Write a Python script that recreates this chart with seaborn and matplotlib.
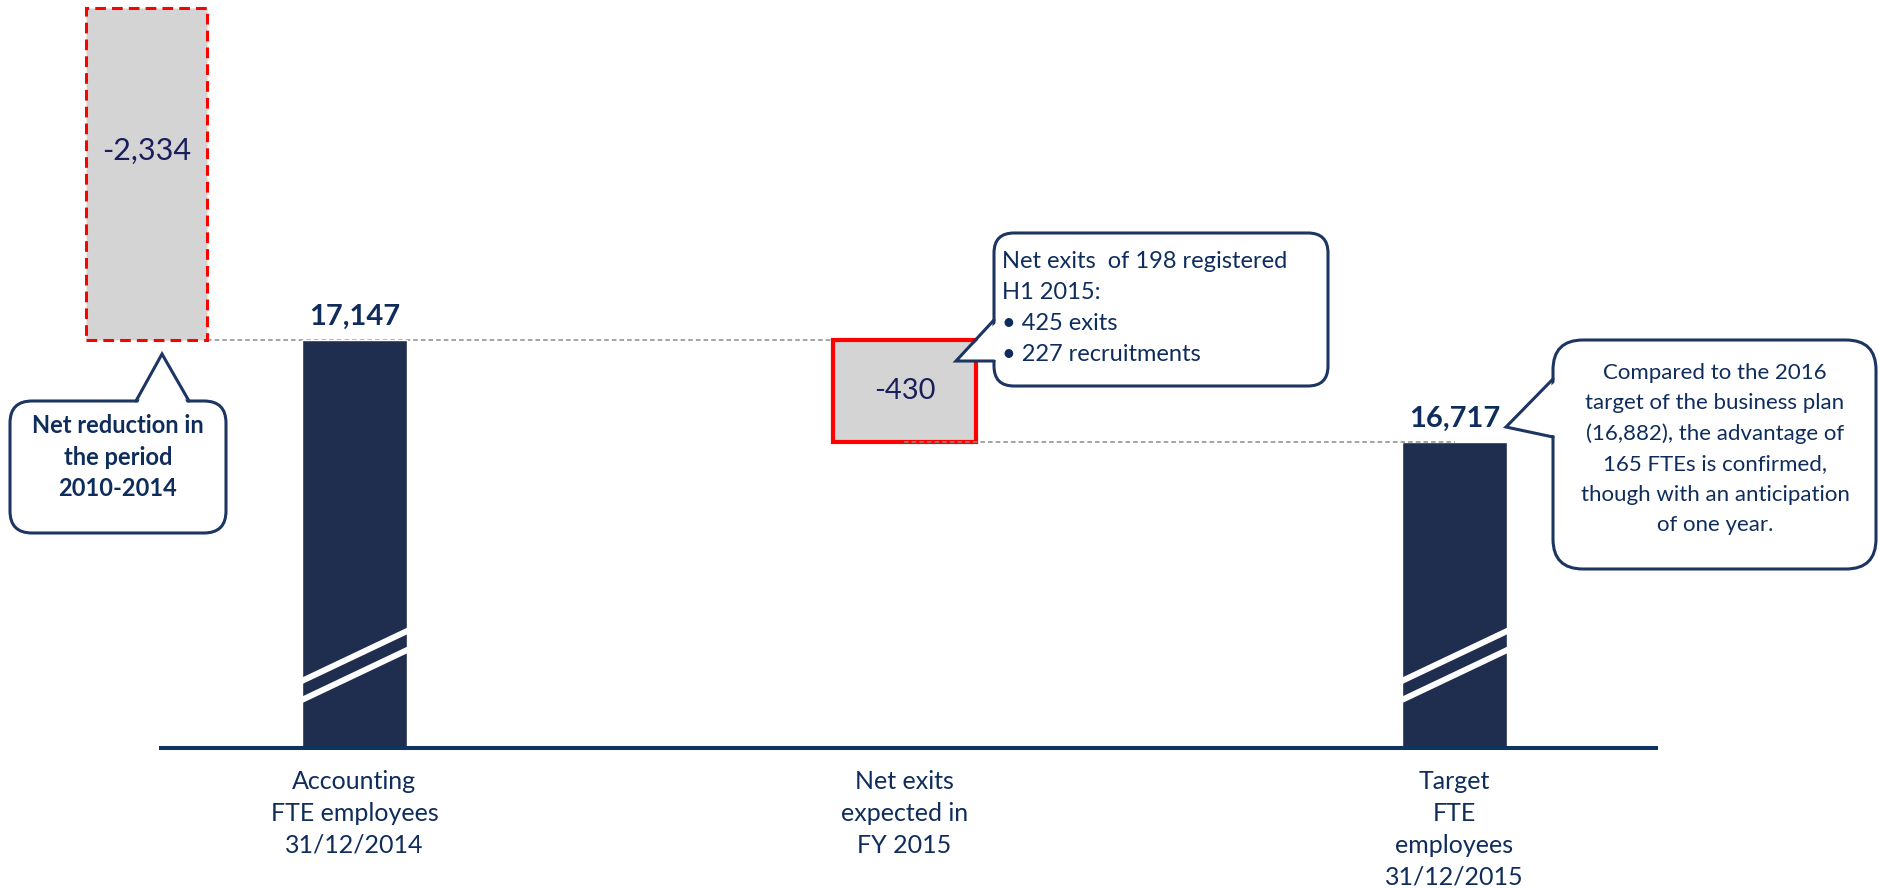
import pandas as pd
import seaborn as sns
import matplotlib.pyplot as plt
from matplotlib.patches import FancyBboxPatch, Polygon
from matplotlib.lines import Line2D
from matplotlib.transforms import Affine2D

# Dati
categories = ["Accounting\nFTE employees\n31/12/2014",
              "Net exits\nexpected in\nFY 2015",
              "Target\nFTE\nemployees\n31/12/2015"]
total_categories = [categories[0], categories[2]]
total_values = [17147, 16717]
net_exits_2015 = -430
net_reduction_2010_2014 = -2334

callout_1 = "Net reduction in\nthe period\n2010-2014"
callout_2 = "Net exits  of 198 registered\nH1 2015:\n\u2022 425 exits\n\u2022 227 recruitments"
callout_3 = ("Compared to the 2016\ntarget of the business plan\n(16,882), the advantage of\n"
             "165 FTEs is confirmed,\nthough with an anticipation\nof one year.")

# Colori
NAVY = "#1f2d4e"
AXIS = "#0e3461"
TEXT = "#0f2d5c"
NUM = "#1a1f5c"
EDGE = "#1c3563"
GREY = "#d4d4d4"
RED = "#ff0000"

# Layout (pixel)
W, H = 1879, 888
BASE_PX = 748            # asse interrotto
Y_FLOOR, Y_CEIL = 15427, 18580
X_LIM = (-0.6445, 2.7718)
REDUCTION_SCALE = 0.6    # la barra 2010-2014 non e' in scala nell'originale
REDUCTION_X = -0.378

sns.set_theme(style="white")
plt.rcParams['font.family'] = ['Lato', 'DejaVu Sans']

fig = plt.figure(figsize=(W / 100, H / 100), dpi=100)
ax = fig.add_axes([0, (H - BASE_PX) / H, 1, BASE_PX / H])

df = pd.DataFrame({"category": total_categories, "fte": total_values})
sns.barplot(data=df, x="category", y="fte", order=categories, color=NAVY,
            saturation=1, width=0.19, errorbar=None, ax=ax, zorder=2)
bars = list(ax.patches)

ax.set_xlim(*X_LIM)
ax.set_ylim(Y_FLOOR, Y_CEIL)
ax.set_yticks([])
ax.set_xlabel("")
ax.set_ylabel("")
sns.despine(ax=ax, left=True, bottom=True)
ax.tick_params(axis="x", length=0, pad=16, labelsize=18, labelcolor=TEXT)
for lbl in ax.get_xticklabels():
    lbl.set_linespacing(1.46)
    lbl.set_verticalalignment("top")

# barra flottante: uscite nette 2015
start = total_values[0]
ax.bar(1, abs(net_exits_2015), bottom=start + net_exits_2015, width=0.26,
       color=GREY, edgecolor=RED, linewidth=3, zorder=2)
ax.text(1, start + net_exits_2015 / 2, f"{net_exits_2015:,}", ha="center", va="center",
        fontsize=21, color=NUM, zorder=4)

# riduzione 2010-2014 (tratteggiata, fuori scala)
red_h = abs(net_reduction_2010_2014) * REDUCTION_SCALE
ax.bar(REDUCTION_X, red_h, bottom=start, width=0.22, color=GREY, edgecolor=RED,
       linewidth=2.2, linestyle=(0, (3.5, 2)), zorder=2, clip_on=False)
ax.text(REDUCTION_X, start + red_h * 0.57, f"{net_reduction_2010_2014:,}", ha="center",
        va="center", fontsize=22, color=NUM, zorder=4)

# connettori tratteggiati
ax.plot([REDUCTION_X + 0.11, 1 - 0.13], [start, start], ls=(0, (3, 2)), color="#8c8c8c",
        lw=1.1, zorder=1)
ax.plot([1, 2], [total_values[1], total_values[1]], ls=(0, (3, 2)), color="#8c8c8c",
        lw=1.1, zorder=3)

# etichette dei totali
for xpos, val in zip([0, 2], total_values):
    ax.annotate(f"{val:,}", (xpos, val), xytext=(0, 23), textcoords="offset pixels",
                ha="center", va="center", fontsize=21, fontweight="bold", color=TEXT)

# segni di interruzione sulle barre
for bar in bars:
    x0 = bar.get_x() - 0.02
    x1 = bar.get_x() + bar.get_width() + 0.02
    for off in (0, 19):
        y_left = Y_FLOOR + (60 - off + 2) / BASE_PX * (Y_CEIL - Y_FLOOR)
        y_right = Y_FLOOR + (116 - off + 6) / BASE_PX * (Y_CEIL - Y_FLOOR)
        ln = Line2D([x0, x1], [y_left, y_right], color="white", lw=4.3, zorder=3,
                    solid_capstyle="butt")
        ax.add_line(ln)
        ln.set_clip_path(bar)

# linea di base
ax.plot([-0.3555, 2.37], [Y_FLOOR, Y_FLOOR], color=AXIS, lw=2.9, clip_on=False,
        zorder=4, solid_capstyle="butt")

# callout (coordinate in pixel, origine in alto a sinistra)
T = Affine2D().scale(1 / W, -1 / H).translate(0, 1) + fig.transFigure


def callout(box, pointer, radius, text, text_xy, ha="center", weight="normal", size=15, ls=1.8):
    x0, y0, x1, y1 = box
    fig.add_artist(FancyBboxPatch((x0, y0), x1 - x0, y1 - y0,
                                  boxstyle=f"round,pad=0,rounding_size={radius}",
                                  facecolor="white", edgecolor=EDGE, lw=2.2,
                                  transform=T, zorder=5))
    outline, fill = pointer
    fig.add_artist(Polygon(fill, closed=True, facecolor="white", edgecolor="none",
                           transform=T, zorder=6))
    xs, ys = zip(*outline)
    fig.add_artist(Line2D(xs, ys, color=EDGE, lw=2.2, transform=T, zorder=7,
                          solid_joinstyle="miter"))
    fig.text(*text_xy, text, transform=T, ha=ha, va="center", multialignment=ha,
             fontsize=size, fontweight=weight, color=TEXT, linespacing=ls, zorder=8)


callout((10, 401, 226, 533),
        ([(136, 401), (162, 354), (189, 401)],
         [(137, 405), (162, 354), (188, 405)]),
        22, callout_1, (118, 457), weight="bold", size=17, ls=1.46)
callout((994, 233, 1328, 386),
        ([(994, 320), (956, 361), (994, 361)],
         [(998, 321), (957, 360), (998, 360)]),
        20, callout_2, (1002, 308), ha="left", size=17, ls=1.58)
callout((1553, 340, 1876, 569),
        ([(1553, 379), (1506, 427), (1553, 437)],
         [(1557, 380), (1508, 427), (1557, 436)]),
        30, callout_3, (1715, 449), size=16, ls=1.63)

fig.savefig("out.png", dpi=100)
